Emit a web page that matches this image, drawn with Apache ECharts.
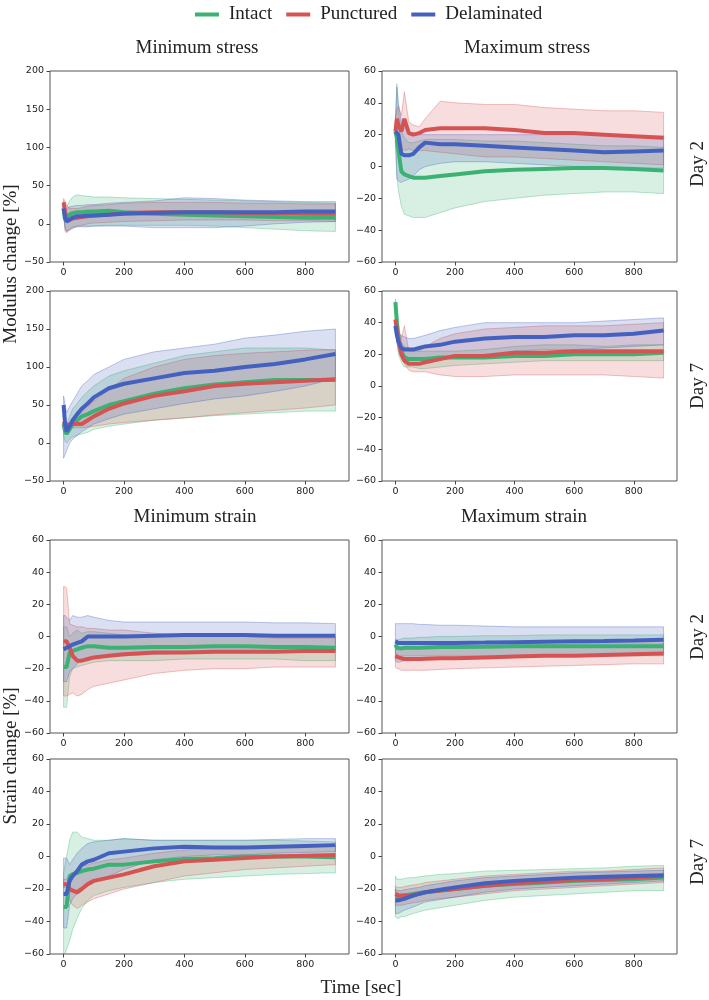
<!DOCTYPE html>
<html><head><meta charset="utf-8">
<script src="https://cdn.jsdelivr.net/npm/echarts@6/dist/echarts.min.js"></script>
<style>html,body{margin:0;padding:0;background:#fff}#c{width:709px;height:1000px}</style>
</head><body><div id="c"></div><script>
// ---------- DATA ----------
const TIME = [0,5,10,20,30,45,60,80,100,150,200,300,400,500,600,700,800,900];
const X_TICKS = [0,200,400,600,800];
const GROUPS = ['Intact','Punctured','Delaminated'];
const PANEL_TITLES = ['Minimum stress','Maximum stress','Minimum strain','Maximum strain'];
const ROW_LABELS = ['Day 2','Day 7','Day 2','Day 7'];
const MODULUS_TICKS = [-50,0,50,100,150,200];
const PCT_TICKS = [-60,-40,-20,0,20,40,60];

// Panel 1: Minimum stress, Day 2
const minStressD2_intact_mean = [20,5,8,12,14,15,15,16,16,17,15,13,12,11,10,9,8,8];
const minStressD2_intact_lo   = [10,-8,-10,-6,-4,-3,-3,-3,-3,-2,-2,-2,-2,-3,-5,-7,-9,-10];
const minStressD2_intact_hi   = [30,25,22,30,35,38,37,36,35,35,34,33,32,31,30,29,28,27];
const minStressD2_punct_mean  = [28,15,5,6,7,8,9,10,11,12,14,15,15,15,14,14,13,13];
const minStressD2_punct_lo    = [20,-10,-12,-8,-5,-3,-2,0,1,2,3,4,5,5,5,4,4,3];
const minStressD2_punct_hi    = [33,30,25,20,20,20,21,23,24,25,27,28,28,28,27,27,26,26];
const minStressD2_delam_mean  = [20,8,3,5,8,10,10,11,11,12,13,14,15,15,15,15,16,16];
const minStressD2_delam_lo    = [10,-5,-10,-8,-6,-4,-4,-4,-3,-3,-3,-5,-5,-5,-3,0,2,3];
const minStressD2_delam_hi    = [28,22,20,22,23,24,24,25,25,27,28,30,34,33,31,30,29,29];

// Panel 2: Maximum stress, Day 2
const maxStressD2_intact_mean = [22,18,10,-3,-5,-6,-7,-7,-7,-6,-5,-3,-2,-1.5,-1,-1,-1.5,-2.5];
const maxStressD2_intact_lo   = [18,-5,-15,-25,-30,-31,-32,-32,-32,-29,-26,-22,-20,-18,-17,-16,-16,-17];
const maxStressD2_intact_hi   = [30,52,35,22,18,15,15,16,17,17,17,16,16,15,14,13,13,12];
const maxStressD2_punct_mean  = [22,30,26,22,30,21,20,21,23,24,24,24,23,21,21,20,19,18];
const maxStressD2_punct_lo    = [15,18,15,12,10,11,10,10,10,9,8,6,6,5,4,3,2,1];
const maxStressD2_punct_hi    = [30,36,38,32,47,28,26,25,30,41,40,39,39,37,36,35,35,34];
const maxStressD2_delam_mean  = [22,22,20,8,7,7,8,12,15,14,14,13,12,11,10,9,9.5,10];
const maxStressD2_delam_lo    = [15,-8,-9,-10,-9,-8,-6,-2,0,2,3,3,2,1,0,-1,-1,-1];
const maxStressD2_delam_hi    = [28,50,40,28,24,22,21,20,20,20,20,20,20,20,20,20,19,19];

// Panel 3: Minimum stress, Day 7
const minStressD7_intact_mean = [25,15,12,18,25,30,35,38,42,50,55,65,72,77,80,83,83,83];
const minStressD7_intact_lo   = [10,2,0,5,8,10,12,14,18,22,25,30,33,36,38,40,42,42];
const minStressD7_intact_hi   = [40,30,25,35,45,52,60,68,75,88,95,105,115,120,125,125,125,122];
const minStressD7_punct_mean  = [28,24,22,24,25,25,25,30,35,45,52,62,68,75,78,80,82,84];
const minStressD7_punct_lo    = [22,20,20,20,20,20,20,21,22,25,27,30,33,37,40,43,46,50];
const minStressD7_punct_hi    = [35,30,25,28,30,35,40,48,55,70,85,100,110,115,118,120,122,123];
const minStressD7_delam_mean  = [50,25,15,22,30,38,45,52,60,72,78,85,92,95,100,104,110,117];
const minStressD7_delam_lo    = [-20,-15,-10,0,5,10,15,20,25,32,38,45,52,58,62,68,75,85];
const minStressD7_delam_hi    = [62,50,40,48,55,65,75,82,90,100,110,120,125,130,138,142,147,150];

// Panel 4: Maximum stress, Day 7
const maxStressD7_intact_mean = [53,40,30,22,18,17,17,17,17,18,18,18,19,19,20,20,20,21];
const maxStressD7_intact_lo   = [50,30,20,15,12,12,12,11,11,12,13,14,15,16,16,16,16,16];
const maxStressD7_intact_hi   = [55,50,40,28,25,24,23,22,22,22,22,23,25,26,26,25,26,26];
const maxStressD7_punct_mean  = [42,35,30,20,16,14,14,14,15,17,19,19,21,21,22,22,22,22];
const maxStressD7_punct_lo    = [40,28,22,18,14,10,9,9,9,7,6,6,7,7,7,7,6,5];
const maxStressD7_punct_hi    = [45,40,35,30,38,22,22,22,25,30,33,36,37,38,38,38,39,40];
const maxStressD7_delam_mean  = [38,32,28,24,23,23,23,24,25,26,28,30,31,31,32,32,33,35];
const maxStressD7_delam_lo    = [35,28,24,20,18,17,17,17,17,17,18,20,22,23,23,24,25,26];
const maxStressD7_delam_hi    = [40,36,33,32,31,30,30,31,32,35,37,40,40,40,40,41,42,43];

// Panel 5: Minimum strain, Day 2
const minStrainD2_intact_mean = [-19,-19,-19,-10,-9,-8,-7,-6,-6,-7,-7,-6.5,-6.5,-6,-6,-6.5,-6.5,-7];
const minStrainD2_intact_lo   = [-44,-44,-44,-25,-20,-19,-18,-17,-16,-15,-15,-15,-14,-14,-14,-14,-15,-15];
const minStrainD2_intact_hi   = [6,6,6,0,2,4,2,3,3,2,1,0,0,0,0,0,0,0];
const minStrainD2_punct_mean  = [-3,-3,-3,-7,-12,-15,-15,-14,-13,-12,-11,-10,-10,-9.5,-9.5,-9.5,-9,-9];
const minStrainD2_punct_lo    = [-37,-37,-37,-36,-35,-37,-36,-33,-31,-29,-27,-23,-21,-20,-20,-19,-19,-19];
const minStrainD2_punct_hi    = [31,31,30,8,7,6,6,5,5,4,4,2,1,0,0,-1,-1,-1];
const minStrainD2_delam_mean  = [-8,-8,-7,-6,-5,-4,-3,0,0,0,0,0.5,1,1,1,0.5,0.5,0.5];
const minStrainD2_delam_lo    = [-28,-28,-28,-22,-20,-17,-15,-14,-13,-12,-12,-11,-10.5,-10,-10,-10,-9.5,-9];
const minStrainD2_delam_hi    = [13,13,12,10,13,12,12,13,12,10,9,9,9,9,9,8.5,8.5,8];

// Panel 6: Maximum strain, Day 2
const maxStrainD2_intact_mean = [-5,-7,-8,-7.5,-7,-7,-7,-7,-6.8,-6.5,-6.5,-6.3,-6,-6,-6,-6,-6,-6];
const maxStrainD2_intact_lo   = [-10,-12,-12,-12,-12,-12,-12,-12,-12,-12,-12,-12,-12,-12,-12,-12,-12,-12];
const maxStrainD2_intact_hi   = [-2,-2,-2,-1.5,-1,-1,-1,-0.5,-0.5,0,0,0.5,0.5,1,1,1,1,1];
const maxStrainD2_punct_mean  = [-12,-13,-13,-13.5,-14,-14,-14,-14,-13.8,-13.5,-13.5,-13,-12.5,-12,-12,-11.5,-11,-10.5];
const maxStrainD2_punct_lo    = [-19,-20,-20,-21,-21,-21,-21,-21,-21,-20.5,-20,-19.5,-19,-18.5,-18,-17.5,-17,-17];
const maxStrainD2_punct_hi    = [-6,-8,-8,-7.5,-7.5,-7,-7,-7,-7,-6.5,-6.5,-6,-5.5,-5,-4.5,-4,-4,-4];
const maxStrainD2_delam_mean  = [-3,-4,-4,-4,-4,-4,-4,-4,-4,-4,-4,-3.8,-3.5,-3.2,-3,-2.8,-2.5,-2];
const maxStrainD2_delam_lo    = [-15,-16,-16,-15.5,-15,-15,-14.5,-14.5,-14,-13.5,-13.5,-13,-12.5,-12,-11.5,-11,-10.5,-10];
const maxStrainD2_delam_hi    = [8,8,8,8,8,8,8,7.5,7.5,7,7,6.5,6,6,6,6,6,6];

// Panel 7: Minimum strain, Day 7
const minStrainD7_intact_mean = [-31,-31,-31,-12,-11,-10,-9,-8,-7.5,-5,-5,-3,-1.5,-1,0,0,0,-0.5];
const minStrainD7_intact_lo   = [-60,-60,-57,-52,-45,-38,-32,-27,-24,-21,-19,-16,-14,-13,-12,-11,-10.5,-10];
const minStrainD7_intact_hi   = [-10,-5,0,10,15,15,12,11,10,10,11,10,10,10,10,10,9.5,9];
const minStrainD7_punct_mean  = [-17,-17,-17,-20,-21,-22,-20,-17,-15,-13,-11,-6,-3,-2,-1,0,0.5,1];
const minStrainD7_punct_lo    = [-19,-19,-19,-27,-30,-32,-30,-28,-26,-23,-20,-16,-12,-10,-8,-7,-6,-5];
const minStrainD7_punct_hi    = [-14,-14,-14,-11,-10,-8,-6,-5,-4,-2,-1,2,4,5,5.5,6,6.5,7];
const minStrainD7_delam_mean  = [-23,-23,-23,-15,-12,-9,-5,-3,-2,2,3,5,6,5.5,5.5,6,6.5,7];
const minStrainD7_delam_lo    = [-44,-44,-44,-30,-26,-23,-20,-17,-15,-12,-8,-2,0,1,1,2,2.5,3];
const minStrainD7_delam_hi    = [-1,-1,-1,-5,-2,2,5,8,9,10,11,10,10,10,10,10.5,11,11];

// Panel 8: Maximum strain, Day 7
const maxStrainD7_intact_mean = [-25,-25,-25,-24.5,-24,-23.5,-23,-22.5,-22,-21,-20,-18,-17,-16,-15,-14.5,-14,-13];
const maxStrainD7_intact_lo   = [-37,-38,-38,-37,-37,-36,-35,-34,-33,-31.5,-30,-27,-25,-24,-23,-22,-21,-21];
const maxStrainD7_intact_hi   = [-12,-14,-14,-14,-13.5,-13,-13,-12.5,-12,-11,-10.5,-9,-8.5,-8,-7.5,-7,-6,-5.5];
const maxStrainD7_punct_mean  = [-23,-24,-24,-24,-24,-24,-23.5,-23,-22,-21,-20,-18,-16.5,-15.5,-14.5,-14,-13,-12];
const maxStrainD7_punct_lo    = [-30,-30,-30,-30,-29.5,-29,-28.5,-28,-27,-26,-25,-23,-21,-20,-19,-18,-17,-16];
const maxStrainD7_punct_hi    = [-18,-19,-19,-19,-18.5,-18,-17.5,-17,-16,-15,-14,-12,-11,-10,-9,-9,-8,-7];
const maxStrainD7_delam_mean  = [-27,-27,-27,-26.5,-26,-25,-24,-23,-22,-20.5,-19,-16.5,-15,-14,-13,-12.5,-12,-11.5];
const maxStrainD7_delam_lo    = [-35,-35,-35,-34,-33,-32,-31,-29.5,-28,-26.5,-25,-22,-20,-19,-18,-17,-16,-15];
const maxStrainD7_delam_hi    = [-20,-21,-21,-21,-20.5,-20,-19.5,-19,-18,-16.5,-15,-13,-12,-11,-10,-9.5,-9,-8.5];

// ---------- BUILD ----------
const panels = [
  [[minStressD2_intact_mean,minStressD2_intact_lo,minStressD2_intact_hi],[minStressD2_punct_mean,minStressD2_punct_lo,minStressD2_punct_hi],[minStressD2_delam_mean,minStressD2_delam_lo,minStressD2_delam_hi]],
  [[maxStressD2_intact_mean,maxStressD2_intact_lo,maxStressD2_intact_hi],[maxStressD2_punct_mean,maxStressD2_punct_lo,maxStressD2_punct_hi],[maxStressD2_delam_mean,maxStressD2_delam_lo,maxStressD2_delam_hi]],
  [[minStressD7_intact_mean,minStressD7_intact_lo,minStressD7_intact_hi],[minStressD7_punct_mean,minStressD7_punct_lo,minStressD7_punct_hi],[minStressD7_delam_mean,minStressD7_delam_lo,minStressD7_delam_hi]],
  [[maxStressD7_intact_mean,maxStressD7_intact_lo,maxStressD7_intact_hi],[maxStressD7_punct_mean,maxStressD7_punct_lo,maxStressD7_punct_hi],[maxStressD7_delam_mean,maxStressD7_delam_lo,maxStressD7_delam_hi]],
  [[minStrainD2_intact_mean,minStrainD2_intact_lo,minStrainD2_intact_hi],[minStrainD2_punct_mean,minStrainD2_punct_lo,minStrainD2_punct_hi],[minStrainD2_delam_mean,minStrainD2_delam_lo,minStrainD2_delam_hi]],
  [[maxStrainD2_intact_mean,maxStrainD2_intact_lo,maxStrainD2_intact_hi],[maxStrainD2_punct_mean,maxStrainD2_punct_lo,maxStrainD2_punct_hi],[maxStrainD2_delam_mean,maxStrainD2_delam_lo,maxStrainD2_delam_hi]],
  [[minStrainD7_intact_mean,minStrainD7_intact_lo,minStrainD7_intact_hi],[minStrainD7_punct_mean,minStrainD7_punct_lo,minStrainD7_punct_hi],[minStrainD7_delam_mean,minStrainD7_delam_lo,minStrainD7_delam_hi]],
  [[maxStrainD7_intact_mean,maxStrainD7_intact_lo,maxStrainD7_intact_hi],[maxStrainD7_punct_mean,maxStrainD7_punct_lo,maxStrainD7_punct_hi],[maxStrainD7_delam_mean,maxStrainD7_delam_lo,maxStrainD7_delam_hi]]
];
const RGB = [[59,178,115],[214,83,83],[69,97,192]];
const rgba = (c,a) => `rgba(${c[0]},${c[1]},${c[2]},${a})`;
const cols = [{left:50,width:299},{left:382,width:295}];
const rows = [{top:71,height:191},{top:291,height:190},{top:540,height:193},{top:759,height:195}];
const fmt = v => v < 0 ? '\u2212' + Math.abs(v) : String(v);
const tickFont = {fontFamily:'DejaVu Sans',fontSize:9.5,color:'#222'};
const serif = 'Liberation Serif';

const grid = [], xAxis = [], yAxis = [], series = [];
panels.forEach((p, k) => {
  const r = rows[Math.floor(k/2)], c = cols[k%2];
  grid.push({left:c.left, top:r.top, width:c.width, height:r.height, show:true, borderColor:'#555', borderWidth:1, backgroundColor:'transparent', containLabel:false});
  xAxis.push({type:'value', gridIndex:k, position:'bottom', min:-45, max:945, splitLine:{show:false},
    axisLine:{show:false, onZero:false},
    axisTick:{show:true, customValues:X_TICKS, length:3.5, lineStyle:{color:'#444'}},
    axisLabel:{customValues:X_TICKS, formatter:fmt, margin:6, ...tickFont}});
  const modulus = (k===0 || k===2);
  const yt = modulus ? MODULUS_TICKS : PCT_TICKS;
  yAxis.push({type:'value', gridIndex:k, position:'left', min:yt[0], max:yt[yt.length-1], interval:yt[1]-yt[0],
    splitLine:{show:false}, axisLine:{show:false, onZero:false},
    axisTick:{show:true, length:3.5, lineStyle:{color:'#444'}},
    axisLabel:{formatter:fmt, margin:6, showMinLabel:true, showMaxLabel:true, ...tickFont}});
  // bands
  p.forEach((s, g) => {
    const lo = s[1], hi = s[2];
    series.push({type:'custom', xAxisIndex:k, yAxisIndex:k, z:1, silent:true, clip:true,
      data:[[TIME[0], lo[0]]],
      renderItem:(params, api) => {
        const pts = [];
        TIME.forEach((t,i) => pts.push(api.coord([t, hi[i]])));
        for (let i = TIME.length-1; i >= 0; i--) pts.push(api.coord([TIME[i], lo[i]]));
        return {type:'polygon', shape:{points:pts},
          style:{fill:rgba(RGB[g],0.2), stroke:rgba(RGB[g],0.45), lineWidth:0.8}};
      }});
  });
  // means
  p.forEach((s, g) => {
    series.push({type:'line', name:GROUPS[g], xAxisIndex:k, yAxisIndex:k, z:3, showSymbol:false, silent:true,
      data:TIME.map((t,i)=>[t, s[0][i]]),
      itemStyle:{color:rgba(RGB[g],1)},
      lineStyle:{color:rgba(RGB[g],1), width:4}});
  });
});

const txt = (text, x, y, rot) => ({type:'text', x, y, rotation: rot||0,
  style:{text, fontFamily:serif, fontSize:19, fill:'#222', textAlign:'center', textVerticalAlign:'middle'}});
const graphic = [
  txt(PANEL_TITLES[0], 197, 48), txt(PANEL_TITLES[1], 527, 48),
  txt(PANEL_TITLES[2], 195, 517), txt(PANEL_TITLES[3], 524, 517),
  txt('Modulus change [%]', 11, 264, Math.PI/2),
  txt('Strain change [%]', 11, 756, Math.PI/2),
  txt('Time [sec]', 361, 988),
  txt(ROW_LABELS[0], 698, 164, Math.PI/2), txt(ROW_LABELS[1], 698, 386, Math.PI/2),
  txt(ROW_LABELS[2], 698, 637, Math.PI/2), txt(ROW_LABELS[3], 698, 862, Math.PI/2)
];

const chart = echarts.init(document.getElementById('c'), null, {renderer:'canvas'});
chart.setOption({
  animation:false,
  backgroundColor:'#fff',
  legend:{data:GROUPS, left:190, top:0, icon:'rect', itemWidth:24, itemHeight:4, itemGap:14,
    textStyle:{fontFamily:serif, fontSize:19, color:'#222', padding:[0,0,0,5]}},
  grid, xAxis, yAxis, series, graphic
});
</script></body></html>
